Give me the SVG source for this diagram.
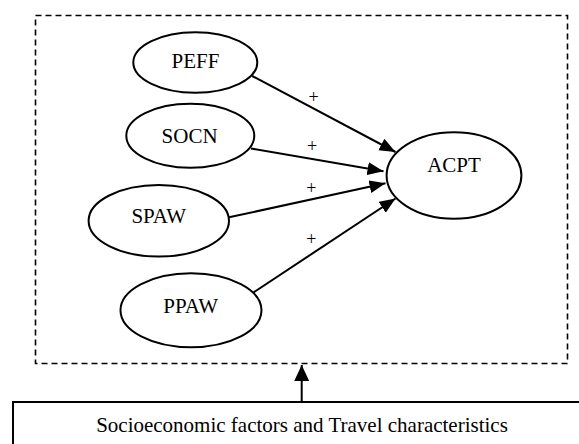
<svg xmlns="http://www.w3.org/2000/svg" width="579" height="444" viewBox="0 0 579 444">
<style>
.node ellipse{fill:#fff;stroke:#000;stroke-width:2}
text{font-family:"Liberation Serif","Times New Roman",serif;font-size:21px;fill:#000;text-anchor:middle}
.edge line{stroke:#000;stroke-width:2;marker-end:url(#ah)}
.plus{font-size:18px}
</style>
<defs>
<marker id="ah" markerUnits="userSpaceOnUse" markerWidth="18" markerHeight="14" refX="16" refY="6.5" orient="auto">
<path d="M0,0 L16,6.5 L0,13 z" fill="#000"/>
</marker>
<marker id="ah2" markerUnits="userSpaceOnUse" markerWidth="17" markerHeight="16" refX="16" refY="7.5" orient="auto">
<path d="M0,0 L16,7.5 L0,15 z" fill="#000"/>
</marker>
</defs>
<rect id="frame" x="35.5" y="15.5" width="532" height="348" fill="none" stroke="#000" stroke-width="1.6" stroke-dasharray="6 4"/>
<g id="bottom-box">
<rect x="13" y="402" width="620" height="80" fill="#fff" stroke="#000" stroke-width="2"/>
<text x="302" y="432">Socioeconomic factors and Travel characteristics</text>
</g>
<g class="edge" id="connectors">
<line x1="252.2" y1="76" x2="395.5" y2="152"/>
<line x1="251" y1="148.5" x2="383.5" y2="171.3"/>
<line x1="229" y1="217.3" x2="385.5" y2="183.3"/>
<line x1="252.2" y1="293.3" x2="395.5" y2="198.5"/>
<line x1="301.7" y1="402" x2="301.7" y2="365" style="marker-end:url(#ah2)"/>
<text class="plus" x="313.5" y="102.5">+</text>
<text class="plus" x="312" y="152">+</text>
<text class="plus" x="311.3" y="193.5">+</text>
<text class="plus" x="311.3" y="244.5">+</text>
</g>
<g class="node" id="PEFF"><ellipse cx="195.3" cy="62.5" rx="62" ry="30.2"/><text x="195.5" y="68.3">PEFF</text></g>
<g class="node" id="SOCN"><ellipse cx="190.3" cy="135.7" rx="64" ry="32"/><text x="189.6" y="142.7">SOCN</text></g>
<g class="node" id="SPAW"><ellipse cx="158.8" cy="220.8" rx="70.2" ry="35.8"/><text x="158.8" y="222.7">SPAW</text></g>
<g class="node" id="PPAW"><ellipse cx="191" cy="310.3" rx="70.5" ry="37"/><text x="190.7" y="313.3">PPAW</text></g>
<g class="node" id="ACPT"><ellipse cx="454" cy="175.5" rx="67.4" ry="43.2"/><text x="454" y="171.7">ACPT</text></g>
</svg>
